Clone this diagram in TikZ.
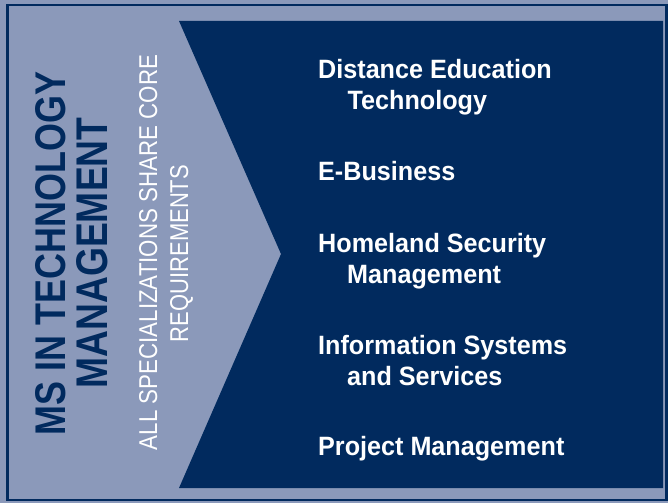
\documentclass[tikz,border=0pt]{standalone}
\usepackage{fontspec}
\setmainfont{Liberation Sans}
\usepackage{graphicx}
\usetikzlibrary{positioning}
\definecolor{navy}{RGB}{1,42,94}
\definecolor{steel}{RGB}{139,153,186}

\begin{document}
\begin{tikzpicture}[x=1pt, y=-1pt,
  title/.style={rotate=90, anchor=base, inner sep=0pt, text=navy, font=\bfseries},
  subtitle/.style={rotate=90, anchor=base, inner sep=0pt, text=white},
  spec/.style={anchor=base west, inner sep=0pt, text=white, align=left, xscale=0.95,
    font=\fontsize{26.5}{31}\selectfont\bfseries}
]
  \useasboundingbox (0,0) rectangle (668,503);
  \fill[steel] (0,0) rectangle (668,503);
  \draw[navy, line width=2.5pt] (7.5,5) rectangle (666.5,500);

  % arrow-shaped panel
  \fill[navy] (179,21) -- (663,21) -- (663,488) -- (179,488) -- (281,254) -- cycle;

  \node[title] (title1) at (65,253.5) {\resizebox{363pt}{30pt}{MS IN TECHNOLOGY}};
  \node[title] (title2) at (107,253) {\resizebox{271pt}{31pt}{MANAGEMENT}};
  \node[subtitle] (sub1) at (157,252.5) {\resizebox{395pt}{18pt}{ALL SPECIALIZATIONS SHARE CORE}};
  \node[subtitle] (sub2) at (188,253.5) {\resizebox{177pt}{18pt}{REQUIREMENTS}};

  % specializations (base = last line)
  \node[spec] (distance) at (318,109) {Distance Education\\\hspace*{31pt}Technology};
  \node[spec] (ebiz)     at (318,180) {E-Business};
  \node[spec] (homeland) at (318,283) {Homeland Security\\\hspace*{30.5pt}Management};
  \node[spec] (infosys)  at (318,385) {Information Systems\\\hspace*{30.5pt}and Services};
  \node[spec] (project)  at (318,455) {Project Management};
\end{tikzpicture}
\end{document}
